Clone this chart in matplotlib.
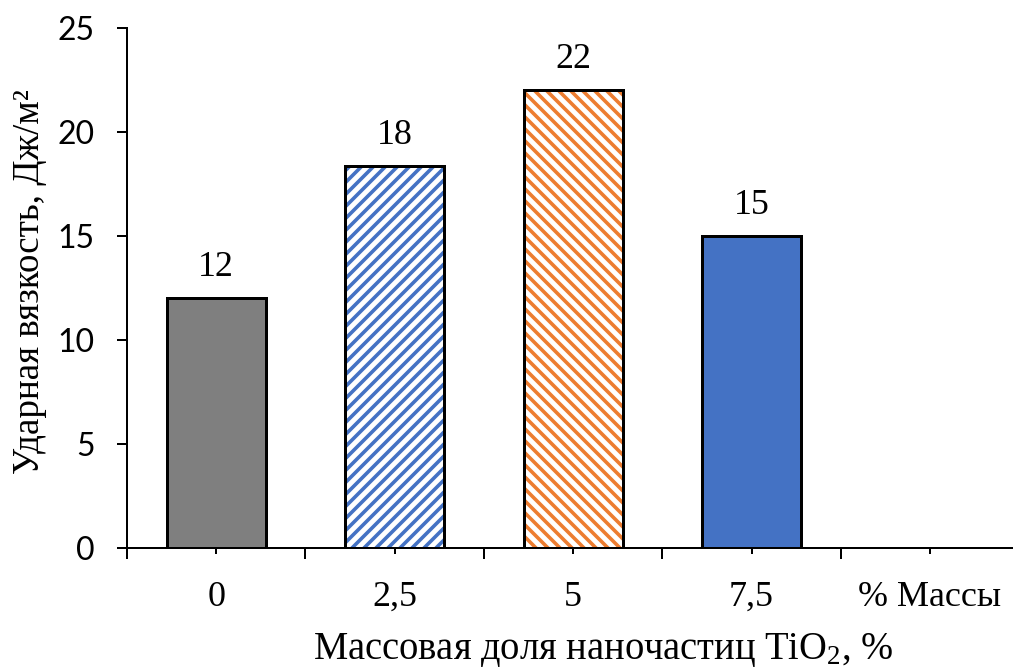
import matplotlib
matplotlib.use("Agg")
import matplotlib.pyplot as plt
from matplotlib.ticker import FixedLocator

# --- data ---
categories = ["0", "2,5", "5", "7,5", "% Массы"]
impact_strength = [12, 18.35, 22, 15]          # J/m^2 for the first four categories
bar_colors = ["#7f7f7f", "#4472c4", "#ed7d31", "#4472c4"]
bar_hatches = ["", "//", "\\\\", ""]
y_ticks = [0, 5, 10, 15, 20, 25]

plt.rcParams["hatch.linewidth"] = 3.6
plt.rcParams["mathtext.fontset"] = "custom"
plt.rcParams["mathtext.rm"] = "Liberation Serif"
plt.rcParams["mathtext.it"] = "Liberation Serif:italic"

DPI = 72
fig = plt.figure(figsize=(1013 / DPI, 668 / DPI), dpi=DPI)
ax = fig.add_axes([127 / 1013, 1 - 548 / 668, (1013 - 127) / 1013, (548 - 28) / 668])

serif = "Liberation Serif"
x = list(range(len(impact_strength)))
width = 0.555

for xi, val, col, h in zip(x, impact_strength, bar_colors, bar_hatches):
    if h:
        ax.bar(xi, val, width, color="white", edgecolor=col, hatch=h, linewidth=0, zorder=2)
    else:
        ax.bar(xi, val, width, color=col, linewidth=0, zorder=2)
    ax.bar(xi, val, width, fill=False, edgecolor="black", linewidth=3, zorder=3)
    ax.annotate(f"{val:.0f}", (xi, val), xytext=(0, 22), textcoords="offset points",
                ha="center", va="baseline", fontsize=36, family=serif)

ax.set_xlim(-0.5, 4.465)
ax.set_ylim(0, 25)

ax.set_xticks(range(len(categories)))
ax.set_xticklabels(categories, fontsize=36, family=serif)
ax.xaxis.set_minor_locator(FixedLocator([-0.5, 0.5, 1.5, 2.5, 3.5]))
ax.tick_params(axis="x", which="major", length=6, width=2, pad=27)
ax.tick_params(axis="x", which="minor", length=11, width=2)

ax.set_yticks(y_ticks)
ax.set_yticklabels([str(v) for v in y_ticks], fontsize=32, family="Lato")
ax.tick_params(axis="y", which="major", length=10, width=2, pad=22)

for side in ("top", "right"):
    ax.spines[side].set_visible(False)
for side in ("left", "bottom"):
    ax.spines[side].set_linewidth(2)

fig.text(30 / 1013, 1 - 282 / 668, "Ударная вязкость, Дж/м²", rotation=90,
         ha="center", va="center", fontsize=37, family=serif)
fig.text(603 / 1013, 1 - 650 / 668, r"Массовая доля наночастиц TiO$_2$, %",
         ha="center", va="center", fontsize=38.5, family=serif)

fig.savefig("out.png", dpi=DPI)
